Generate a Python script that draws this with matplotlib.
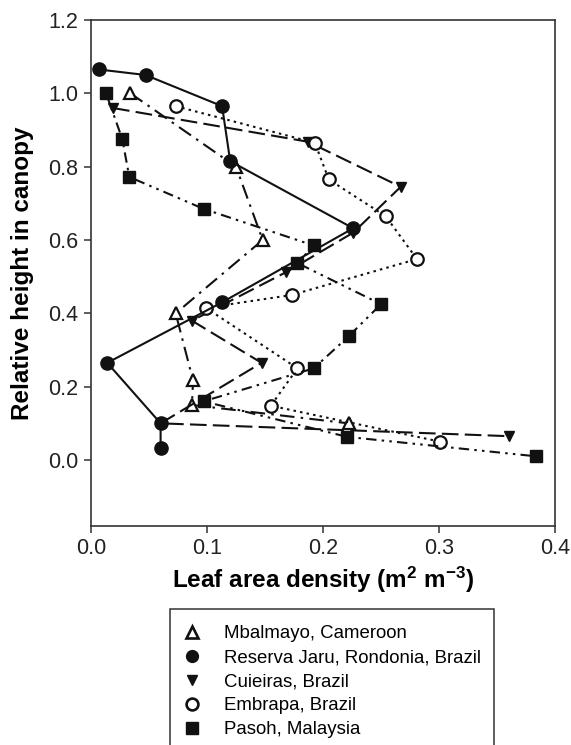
import matplotlib
matplotlib.use('Agg')
import matplotlib.pyplot as plt
from matplotlib.lines import Line2D
from matplotlib.patches import Rectangle

plt.rcParams['font.family'] = ['Liberation Sans', 'DejaVu Sans']
plt.rcParams['mathtext.fontset'] = 'custom'
plt.rcParams['mathtext.rm'] = 'Liberation Sans:bold'
plt.rcParams['mathtext.it'] = 'Liberation Sans:bold'
plt.rcParams['mathtext.bf'] = 'Liberation Sans:bold'

# Leaf area density profiles (x = LAD, y = relative height)
mbalmayo_x = [0.034, 0.125, 0.148, 0.073, 0.088, 0.087, 0.222]
mbalmayo_y = [1.00, 0.80, 0.60, 0.40, 0.217, 0.15, 0.10]

jaru_x = [0.007, 0.047, 0.113, 0.120, 0.226, 0.113, 0.014, 0.060, 0.060]
jaru_y = [1.065, 1.05, 0.965, 0.815, 0.632, 0.43, 0.265, 0.10, 0.033]

cuieiras_x = [0.019, 0.187, 0.267, 0.226, 0.168, 0.087, 0.147, 0.060, 0.360]
cuieiras_y = [0.96, 0.868, 0.745, 0.620, 0.512, 0.380, 0.265, 0.100, 0.065]

embrapa_x = [0.073, 0.193, 0.205, 0.254, 0.281, 0.173, 0.099, 0.178, 0.155, 0.301]
embrapa_y = [0.965, 0.865, 0.765, 0.665, 0.548, 0.45, 0.415, 0.25, 0.148, 0.05]

pasoh_x = [0.013, 0.027, 0.033, 0.097, 0.192, 0.178, 0.250, 0.222, 0.192, 0.097, 0.221, 0.384]
pasoh_y = [1.00, 0.875, 0.772, 0.685, 0.585, 0.537, 0.425, 0.337, 0.25, 0.16, 0.063, 0.01]

labels = ['Mbalmayo, Cameroon', 'Reserva Jaru, Rondonia, Brazil', 'Cuieiras, Brazil',
          'Embrapa, Brazil', 'Pasoh, Malaysia']

ink = '#111111'
lw = 1.5

fig = plt.figure(figsize=(5.71, 7.45), dpi=100)
ax = fig.add_axes([91 / 571, 1 - 526 / 745, 464 / 571, 506 / 745])

ax.plot(mbalmayo_x, mbalmayo_y, color=ink, lw=lw, dashes=(7, 3, 1.2, 3),
        marker='^', ms=9, mfc='white', mec=ink, mew=1.6, zorder=3)
ax.plot(jaru_x, jaru_y, color=ink, lw=lw, linestyle='-',
        marker='o', ms=9.5, mfc=ink, mec=ink, zorder=4)
ax.plot(cuieiras_x, cuieiras_y, color=ink, lw=lw, dashes=(8, 3),
        marker='v', ms=7.5, mfc=ink, mec=ink, zorder=3)
ax.plot(embrapa_x, embrapa_y, color=ink, lw=lw, dashes=(1.2, 2),
        marker='o', ms=9, mfc='white', mec=ink, mew=1.6, zorder=3)
ax.plot(pasoh_x, pasoh_y, color=ink, lw=lw, dashes=(5, 2.5, 1.2, 2.5, 1.2, 2.5),
        marker='s', ms=8, mfc=ink, mec=ink, zorder=3)

ax.set_xlim(0, 0.4)
ax.set_ylim(-0.18, 1.2)
ax.set_xticks([0.0, 0.1, 0.2, 0.3, 0.4])
ax.set_yticks([0.0, 0.2, 0.4, 0.6, 0.8, 1.0, 1.2])
ax.set_xticklabels(['0.0', '0.1', '0.2', '0.3', '0.4'])
ax.set_yticklabels(['0.0', '0.2', '0.4', '0.6', '0.8', '1.0', '1.2'])
ax.tick_params(direction='out', length=5, width=1.1, color='#333333',
               labelsize=15.5, pad=4, labelcolor='#222222')
for sp in ax.spines.values():
    sp.set_linewidth(1.2)
    sp.set_color('#333333')

ax.set_xlabel('Leaf area density (m$^{2}$ m$^{-3}$)', fontsize=17.5,
              fontweight='bold', labelpad=4)
ax.set_ylabel('Relative height in canopy', fontsize=17.5, fontweight='bold', labelpad=10)

# legend box below the axes, running off the bottom of the figure
fig.patches.append(Rectangle((170 / 571, -0.05), 324 / 571, 0.05 + 136 / 745,
                             transform=fig.transFigure, fill=False,
                             edgecolor='#333333', linewidth=1.1))
handles = [
    Line2D([], [], linestyle='none', marker='^', ms=8.5, mfc='white', mec=ink, mew=1.9),
    Line2D([], [], linestyle='none', marker='o', ms=8.5, mfc=ink, mec=ink),
    Line2D([], [], linestyle='none', marker='v', ms=7.5, mfc=ink, mec=ink),
    Line2D([], [], linestyle='none', marker='o', ms=8.5, mfc='white', mec=ink, mew=1.9),
    Line2D([], [], linestyle='none', marker='s', ms=8, mfc=ink, mec=ink),
]
fig.legend(handles, labels, loc='upper left', bbox_to_anchor=(183 / 571, 1 - 625 / 745),
           frameon=False, fontsize=13.4, handlelength=1.0, handletextpad=1.2,
           labelspacing=0.38, borderpad=0, borderaxespad=0)

fig.savefig('out.png', dpi=100)
